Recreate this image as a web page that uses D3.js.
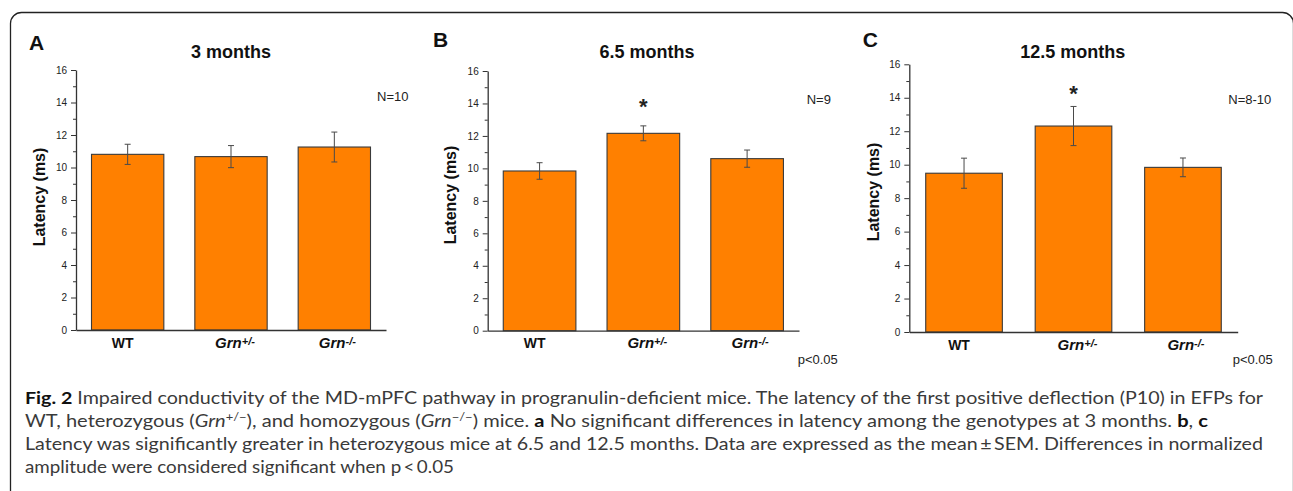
<!DOCTYPE html>
<html><head><meta charset="utf-8">
<script src="https://cdn.jsdelivr.net/npm/d3@7"></script>
<style>body{margin:0;background:#fff;} svg{display:block;}</style>
</head><body>
<svg id="c" width="1293" height="491"></svg>
<script>
// ---------------- data ----------------
const categories = ["WT", "Grn+/-", "Grn-/-"];
const panelLetters = ["A", "B", "C"];
const panelTitles = ["3 months", "6.5 months", "12.5 months"];
const latency3m = [10.81, 10.67, 11.26];
const sem3m = [0.62, 0.68, 0.92];
const latency65m = [9.84, 12.16, 10.60];
const sem65m = [0.51, 0.46, 0.53];
const latency125m = [9.49, 12.31, 9.84];
const sem125m = [0.90, 1.17, 0.56];
const yTickValues = [0, 2, 4, 6, 8, 10, 12, 14, 16];
const yMinorTickValues = [1, 3, 5, 7, 9, 11, 13, 15];
const nLabels = ["N=10", "N=9", "N=8-10"];
const significant = [[false, false, false], [false, true, false], [false, true, false]];
const starLevel = [null, 14.1, 14.5];
const pLabels = ["", "p<0.05", "p<0.05"];
const yAxisTitle = "Latency (ms)";
const captionLines = [
  [{t: "Fig. 2", b: 1}, {t: " Impaired conductivity of the MD-mPFC pathway in progranulin-deficient mice. The latency of the first positive deflection (P10) in EFPs for"}],
  [{t: "WT, heterozygous ("}, {t: "Grn", i: 1}, {t: "+/\u2212", sup: 1}, {t: "), and homozygous ("}, {t: "Grn", i: 1}, {t: "\u2212/\u2212", sup: 1}, {t: ") mice. "}, {t: "a", b: 1}, {t: " No significant differences in latency among the genotypes at 3 months. "}, {t: "b", b: 1}, {t: ", "}, {t: "c", b: 1}],
  [{t: "Latency was significantly greater in heterozygous mice at 6.5 and 12.5 months. Data are expressed as the mean\u2009\u00b1\u2009SEM. Differences in normalized"}],
  [{t: "amplitude were considered significant when p\u2009<\u20090.05"}]
];

const panels = [
  {means: latency3m, sems: sem3m},
  {means: latency65m, sems: sem65m},
  {means: latency125m, sems: sem125m}
];

// ---------------- layout (styling) ----------------
const layout = [
  {x0: 76, x1: 386, yTop: 70, yBot: 330, letter: [29, 50], title: [231, 58], ylab: [45, 197], n: [377, 101], p: null, xlabY: 348},
  {x0: 487.7, x1: 799, yTop: 71, yBot: 330.7, letter: [433, 47], title: [647, 58], ylab: [456, 195], n: [806.7, 104], p: [797.7, 364], xlabY: 348},
  {x0: 909.3, x1: 1237.7, yTop: 64.3, yBot: 332, letter: [862.7, 47], title: [1072.7, 58], ylab: [879, 192], n: [1228.3, 104], p: [1232.7, 364], xlabY: 350}
];
const xLabelShift = [-5, 4, 3];
const arial = "Arial, 'Liberation Sans', Helvetica, sans-serif";

const svg = d3.select("#c");

// frame
svg.append("rect").attr("x", 10.5).attr("y", 12.5).attr("width", 1283).attr("height", 540)
  .attr("rx", 11).attr("fill", "none").attr("stroke", "#222").attr("stroke-width", 1.3);

panels.forEach((pd, pi) => {
  const L = layout[pi];
  const g = svg.append("g");
  const x = d3.scaleBand().domain(categories).range([L.x0, L.x1]).paddingInner(0.3).paddingOuter(0.15);
  const y = d3.scaleLinear().domain([0, 16]).range([L.yBot, L.yTop]);

  // bars
  g.selectAll("rect.bar").data(categories).join("rect").attr("class", "bar")
    .attr("x", d => x(d)).attr("width", x.bandwidth())
    .attr("y", (d, i) => y(pd.means[i])).attr("height", (d, i) => y(0) - y(pd.means[i]))
    .attr("fill", "#FF8000").attr("stroke", "#3a3a3a").attr("stroke-width", 1.1);

  // error bars
  const eb = g.selectAll("g.err").data(categories).join("g").attr("class", "err")
    .attr("stroke", "#4a4a4a").attr("stroke-width", 1);
  eb.append("line").attr("x1", d => x(d) + x.bandwidth() / 2).attr("x2", d => x(d) + x.bandwidth() / 2)
    .attr("y1", (d, i) => y(pd.means[i] + pd.sems[i])).attr("y2", (d, i) => y(pd.means[i] - pd.sems[i]));
  [1, -1].forEach(sgn => {
    eb.append("line").attr("x1", d => x(d) + x.bandwidth() / 2 - 3).attr("x2", d => x(d) + x.bandwidth() / 2 + 3)
      .attr("y1", (d, i) => y(pd.means[i] + sgn * pd.sems[i])).attr("y2", (d, i) => y(pd.means[i] + sgn * pd.sems[i]));
  });

  // significance stars
  g.selectAll("text.star").data(categories.filter((d, i) => significant[pi][i])).join("text").attr("class", "star")
    .attr("x", d => x(d) + x.bandwidth() / 2).attr("y", y(starLevel[pi] || 0) + 12)
    .attr("text-anchor", "middle").attr("font-family", arial).attr("font-weight", "bold")
    .attr("font-size", 22).attr("fill", "#222").text("*");

  // y axis
  const ya = g.append("g").attr("transform", `translate(${L.x0},0)`)
    .call(d3.axisLeft(y).tickValues(yTickValues).tickSize(5).tickSizeOuter(0).tickPadding(4));
  ya.select(".domain").attr("stroke", "#333").attr("stroke-width", 1.3);
  ya.selectAll(".tick line").attr("stroke", "#333");
  ya.selectAll(".tick text").attr("font-family", arial).attr("font-size", 10).attr("fill", "#222");
  const ym = g.append("g").attr("transform", `translate(${L.x0},0)`)
    .call(d3.axisLeft(y).tickValues(yMinorTickValues).tickSize(3).tickFormat(""));
  ym.select(".domain").remove();
  ym.selectAll(".tick line").attr("stroke", "#333");

  // x axis
  const xa = g.append("g").attr("transform", `translate(0,${y(0)})`)
    .call(d3.axisBottom(x).tickSize(0).tickSizeOuter(0).tickFormat(""));
  xa.select(".domain").attr("stroke", "#333").attr("stroke-width", 1.3);

  // x labels
  categories.forEach((c, i) => {
    const t = g.append("text").attr("x", x(c) + x.bandwidth() / 2 + xLabelShift[i]).attr("y", L.xlabY)
      .attr("text-anchor", "middle").attr("font-family", arial).attr("font-weight", "bold")
      .attr("fill", "#111");
    if (c === "WT") {
      t.attr("font-size", 14).text(c);
    } else {
      t.attr("font-style", "italic");
      t.append("tspan").attr("font-size", 15).text(c.slice(0, 3));
      t.append("tspan").attr("font-size", 11).attr("dy", -3).text(c.slice(3));
    }
  });

  // panel letter & title
  g.append("text").attr("x", L.letter[0]).attr("y", L.letter[1]).attr("font-family", arial)
    .attr("font-weight", "bold").attr("font-size", 21).attr("fill", "#111").text(panelLetters[pi]);
  g.append("text").attr("x", L.title[0]).attr("y", L.title[1]).attr("text-anchor", "middle")
    .attr("font-family", arial).attr("font-weight", "bold").attr("font-size", 18).attr("fill", "#111")
    .text(panelTitles[pi]);

  // y title
  g.append("text").attr("transform", `translate(${L.ylab[0]},${L.ylab[1]}) rotate(-90)`)
    .attr("text-anchor", "middle").attr("font-family", arial).attr("font-weight", "bold")
    .attr("font-size", 16).attr("fill", "#111").text(yAxisTitle);

  // N label & p label
  g.append("text").attr("x", L.n[0]).attr("y", L.n[1]).attr("font-family", arial)
    .attr("font-size", 13).attr("fill", "#222").text(nLabels[pi]);
  if (L.p) {
    g.append("text").attr("x", L.p[0]).attr("y", L.p[1]).attr("font-family", arial)
      .attr("font-size", 13).attr("fill", "#222").text(pLabels[pi]);
  }
});

// caption
const capBaselines = [404, 427, 450, 473];
const capWidths = [1238, 1183, 1238, 429];
captionLines.forEach((segs, li) => {
  const t = svg.append("text").attr("x", 25).attr("y", capBaselines[li])
    .attr("font-family", "Lato, 'Open Sans', sans-serif").attr("font-size", 17).attr("fill", "#3a3a3a");
  segs.forEach((s, k) => {
    const ts = t.append("tspan").text(s.t);
    if (s.b) ts.attr("font-weight", "bold").attr("fill", "#111");
    if (s.i) ts.attr("font-style", "italic");
    if (s.sup) ts.attr("font-size", 11).attr("dy", -6);
    else if (k > 0 && segs[k - 1].sup) ts.attr("dy", 6);
  });
  t.attr("textLength", capWidths[li]).attr("lengthAdjust", "spacingAndGlyphs");
});
</script>
</body></html>
